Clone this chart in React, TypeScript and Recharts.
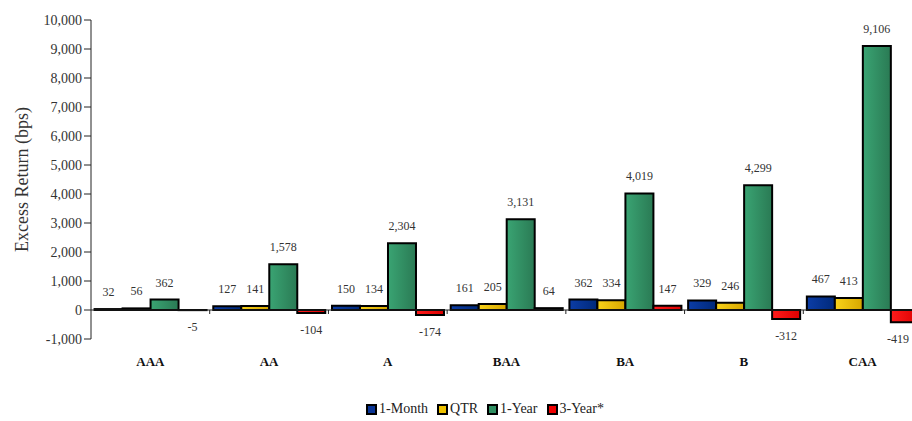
import React from "react";
import {
  BarChart,
  Bar,
  XAxis,
  YAxis,
  Legend,
  ReferenceLine,
  LabelList,
  Label,
} from "recharts";

const categories = ["AAA", "AA", "A", "BAA", "BA", "B", "CAA"];
const oneMonth = [32, 127, 150, 161, 362, 329, 467];
const qtr = [56, 141, 134, 205, 334, 246, 413];
const oneYear = [362, 1578, 2304, 3131, 4019, 4299, 9106];
const threeYear = [-5, -104, -174, 64, 147, -312, -419];
const yTicks = [-1000, 0, 1000, 2000, 3000, 4000, 5000, 6000, 7000, 8000, 9000, 10000];

const seriesNames = ["1-Month", "QTR", "1-Year", "3-Year*"];

const data = categories.map((c, i) => ({
  name: c,
  m1: oneMonth[i],
  qtr: qtr[i],
  y1: oneYear[i],
  y3: threeYear[i],
}));

const FONT = "Liberation Serif";
const fmt = (v: number) => v.toLocaleString("en-US");
const VISIBLE_W = 912;

const gradients = [
  { id: "gBlue", from: "#0c3da6", to: "#00297a", solid: "#0a3596" },
  { id: "gGold", from: "#f8d21a", to: "#d6a600", solid: "#eec200" },
  { id: "gGreen", from: "#3aa473", to: "#2a7a54", solid: "#2f8f62" },
  { id: "gRed", from: "#ff1c1c", to: "#dc0000", solid: "#f00000" },
];

const ValueLabel = (props: any) => {
  const { x, y, width, height, value } = props;
  const top = Math.min(y, y + height);
  const bottom = Math.max(y, y + height);
  const cy = value >= 0 ? top - 17 : bottom + 17;
  const text = fmt(value);
  const half = (text.length * 6) / 2;
  // keep the last label inside the visible area
  const cx = Math.min(x + width / 2, VISIBLE_W - 2 - half);
  return (
    <text
      x={cx}
      y={cy}
      textAnchor="middle"
      dominantBaseline="central"
      style={{ fontSize: 12, fill: "#333", fontFamily: FONT }}
    >
      {text}
    </text>
  );
};

const CategoryTick = (props: any) => {
  const { x, y, payload } = props;
  return (
    <text
      x={x}
      y={y + 14}
      textAnchor="middle"
      dominantBaseline="central"
      style={{ fontSize: 13, fontWeight: "bold", fill: "#111", fontFamily: FONT }}
    >
      {payload.value}
    </text>
  );
};

// zero line with small tick marks at the category boundaries
const ZeroLine = (props: any) => {
  const { x1, x2, y1 } = props;
  const n = categories.length;
  const step = (x2 - x1) / n;
  const marks = [];
  for (let i = 1; i < n; i++) {
    const mx = x1 + step * i;
    marks.push(<line key={i} x1={mx} x2={mx} y1={y1} y2={y1 + 4} stroke="#222" strokeWidth={1} />);
  }
  return (
    <g>
      <line x1={x1} x2={x2} y1={y1} y2={y1} stroke="#222" strokeWidth={1} />
      {marks}
    </g>
  );
};

const LegendContent = () => (
  <div
    style={{
      display: "flex",
      justifyContent: "center",
      alignItems: "center",
      fontFamily: FONT,
      fontSize: 14,
      color: "#222",
    }}
  >
    {seriesNames.map((n, i) => (
      <span key={n} style={{ display: "flex", alignItems: "center", marginRight: 9 }}>
        <span
          style={{
            display: "inline-block",
            width: 7,
            height: 7,
            border: "2px solid #000",
            background: gradients[i].solid,
            marginRight: 2,
          }}
        />
        {n}
      </span>
    ))}
  </div>
);

const keys = ["m1", "qtr", "y1", "y3"];

export default function App() {
  return (
    <div
      style={{
        position: "absolute",
        left: 0,
        top: 0,
        width: VISIBLE_W,
        height: 421,
        overflow: "hidden",
        background: "#fff",
        fontFamily: FONT,
      }}
    >
      <BarChart
        width={935}
        height={421}
        data={data}
        margin={{ top: 20, right: 13, left: 0, bottom: 42 }}
        barCategoryGap="3%"
        barGap={0}
        style={{ fontFamily: FONT }}
      >
        <defs>
          {gradients.map((g) => (
            <linearGradient key={g.id} id={g.id} x1="0" y1="0" x2="1" y2="0">
              <stop offset="0%" stopColor={g.from} />
              <stop offset="100%" stopColor={g.to} />
            </linearGradient>
          ))}
        </defs>
        <XAxis
          dataKey="name"
          axisLine={false}
          tickLine={false}
          height={40}
          tick={<CategoryTick />}
          interval={0}
        />
        <YAxis
          width={91}
          domain={[-1000, 10000]}
          ticks={yTicks}
          tickFormatter={fmt}
          axisLine={{ stroke: "#222", strokeWidth: 1 }}
          tickLine={{ stroke: "#222", strokeWidth: 1 }}
          tickSize={7}
          tickMargin={2}
          tick={{ fontSize: 14, fill: "#333", style: { fontFamily: FONT } }}
          interval={0}
        >
          <Label
            content={(p: any) => {
              const vb = p.viewBox;
              const cx = 22;
              const cy = vb.y + vb.height / 2;
              return (
                <text
                  x={cx}
                  y={cy}
                  transform={`rotate(-90, ${cx}, ${cy})`}
                  textAnchor="middle"
                  dominantBaseline="central"
                  style={{ fontSize: 18, fill: "#333", fontFamily: FONT }}
                >
                  Excess Return (bps)
                </text>
              );
            }}
          />
        </YAxis>
        <ReferenceLine y={0} shape={<ZeroLine />} />
        {keys.map((k, i) => (
          <Bar
            key={k}
            dataKey={k}
            name={seriesNames[i]}
            fill={`url(#${gradients[i].id})`}
            stroke="#000"
            strokeWidth={2}
            isAnimationActive={false}
          >
            <LabelList dataKey={k} content={<ValueLabel />} />
          </Bar>
        ))}
        <Legend
          verticalAlign="middle"
          align="center"
          layout="horizontal"
          content={<LegendContent />}
          wrapperStyle={{ top: 401, left: 22, width: 935 }}
        />
      </BarChart>
    </div>
  );
}
